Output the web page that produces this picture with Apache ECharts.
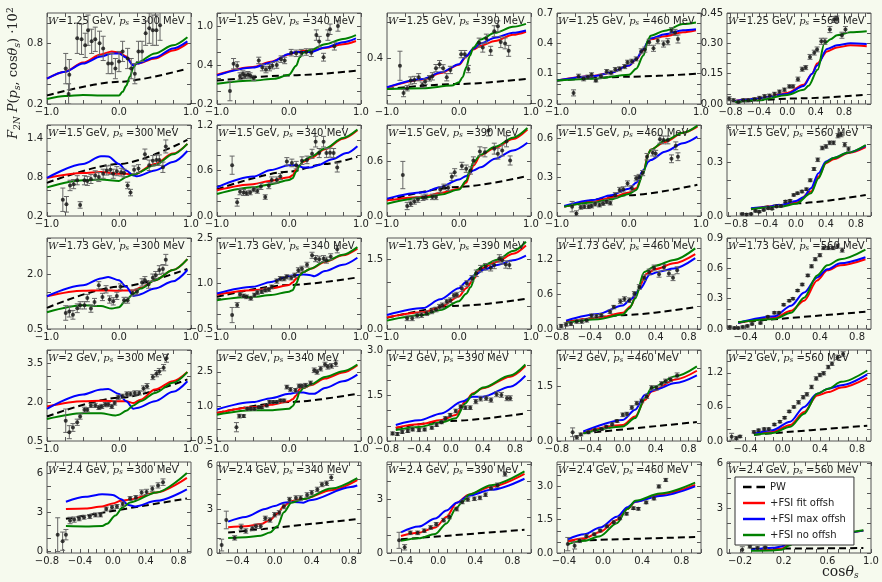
<!DOCTYPE html>
<html>
<head>
<meta charset="utf-8">
<script src="https://cdn.jsdelivr.net/npm/echarts@6/dist/echarts.min.js"></script>
<style>
  html, body { margin: 0; padding: 0; background: #f6faee; }
  #chart { width: 882px; height: 582px; }
</style>
</head>
<body>
<div id="chart"></div>
<script>
// panel order: row by row (W), column by column (p_s)
const wValues = ['1.25', '1.5', '1.73', '2', '2.4'];
const psValues = ['300', '340', '390', '460', '560'];

const xRanges = [
  [-1, 1], [-1, 1], [-1, 1], [-1, 1], [-0.85, 1.18],
  [-1, 1], [-1, 1], [-1, 1], [-1, 1], [-0.92, 1.0],
  [-1, 1], [-1, 1], [-1, 1], [-0.8, 0.95], [-0.6, 0.95],
  [-1, 1], [-1, 1], [-0.8, 1.0], [-0.8, 0.95], [-0.6, 0.95],
  [-0.8, 0.95], [-0.62, 0.93], [-0.55, 1.0], [-0.47, 1.0], [-0.32, 1.0]
];
const yRanges = [
  [0.2, 1.1], [-0.2, 1.2], [0.15, 0.65], [-0.2, 0.7], [0, 0.45],
  [0.2, 1.6], [0, 1.2], [0, 1.0], [0, 0.7], [0, 0.51],
  [0.5, 3.0], [-0.5, 2.5], [0, 1.96], [0, 1.58], [0, 0.9],
  [0.5, 4.0], [-0.5, 3.45], [0, 3.0], [0, 2.5], [0, 1.6],
  [-0.1, 6.9], [0, 6.2], [0, 5.1], [0, 4.1], [0, 6.1]
];
// tick labels: [first, step]
const xLabelTicks = [
  [-1, 1], [-1, 1], [-1, 1], [-1, 1], [-0.8, 0.4],
  [-1, 1], [-1, 1], [-1, 1], [-1, 1], [-0.8, 0.4],
  [-1, 1], [-1, 1], [-1, 1], [-0.8, 0.4], [-0.8, 0.4],
  [-1, 1], [-1, 1], [-0.8, 0.4], [-0.8, 0.4], [-0.8, 0.4],
  [-0.8, 0.4], [-0.8, 0.4], [-0.8, 0.4], [-0.8, 0.4], [-0.2, 0.4]
];
const yLabelTicks = [
  [0.2, 0.6], [-0.2, 0.6], [0.4, 0.6], [-0.2, 0.3], [0, 0.15],
  [0.2, 0.6], [0, 0.6], [0, 0.6], [0, 0.3], [0, 0.3],
  [0.5, 1.5], [-0.5, 1.5], [0, 1.5], [0, 0.6], [0, 0.3],
  [0.5, 1.5], [-0.5, 1.5], [0, 1.5], [0, 1.5], [0, 0.6],
  [0, 3], [0, 3], [0, 3], [0, 1.5], [0, 3]
];
const yDigits = [1, 1, 1, 1, 2, 1, 1, 1, 1, 1, 1, 1, 1, 1, 1, 1, 1, 1, 1, 1, 0, 0, 0, 1, 0];

// PW (dashed black)
const pwCurves = [
  [[-1,0.285],[0,0.42],[0.95,0.55]],
  [[-1,0.16],[0,0.24],[0.93,0.31]],
  [[-1,0.233],[0,0.26],[0.93,0.288]],
  [[-1,0.033],[0,0.07],[0.93,0.098]],
  [[-0.74,0.01],[0.2,0.028],[1.12,0.046]],
  [[-1,0.71],[0,1.0],[0.95,1.37]],
  [[-1,0.35],[0,0.585],[0.5,0.686],[0.95,0.78]],
  [[-1,0.172],[0,0.32],[0.95,0.44]],
  [[-0.9,0.072],[0,0.16],[0.95,0.24]],
  [[-0.6,0.038],[0,0.071],[0.93,0.118]],
  [[-1,1.08],[0,1.66],[0.95,2.15]],
  [[-1,0.56],[0,0.95],[0.95,1.2]],
  [[-1,0.24],[0,0.5],[0.93,0.65]],
  [[-0.69,0.12],[0,0.24],[0.88,0.38]],
  [[-0.48,0.067],[0.89,0.17]],
  [[-1,1.44],[0,2.16],[0.95,2.87]],
  [[-1,0.72],[0,1.19],[0.95,1.55]],
  [[-0.69,0.43],[0,0.66],[0.93,0.91]],
  [[-0.48,0.21],[0.9,0.52]],
  [[-0.31,0.11],[0.91,0.27]],
  [[-0.57,2.53],[0.9,4.09]],
  [[-0.5,1.39],[0.89,2.31]],
  [[-0.4,0.77],[0.93,1.30]],
  [[-0.36,0.55],[0.94,0.72]],
  [[-0.1,0.28],[0.93,0.33]]
];
// +FSI fit offsh (red)
const fitCurves = [
  [[-1,0.45],[-0.75,0.52],[-0.5,0.61],[-0.25,0.69],[-0.1,0.72],[0,0.71],[0.1,0.67],[0.2,0.58],[0.25,0.6],[0.5,0.65],[0.75,0.73],[0.95,0.80]],
  [[-1,0.25],[-0.5,0.37],[-0.25,0.45],[0,0.56],[0.1,0.6],[0.2,0.62],[0.3,0.62],[0.5,0.66],[0.75,0.72],[0.93,0.77]],
  [[-1,0.24],[-0.5,0.285],[-0.25,0.32],[0,0.365],[0.1,0.41],[0.2,0.45],[0.3,0.47],[0.5,0.496],[0.75,0.53],[0.93,0.547]],
  [[-1,0.033],[-0.5,0.078],[-0.25,0.11],[0,0.18],[0.1,0.24],[0.2,0.335],[0.27,0.42],[0.3,0.44],[0.5,0.47],[0.75,0.51],[0.93,0.53]],
  [[-0.74,0.015],[-0.4,0.027],[0,0.055],[0.23,0.095],[0.35,0.15],[0.42,0.2],[0.56,0.26],[0.7,0.28],[0.89,0.29],[1.12,0.286]],
  [[-1,0.785],[-0.5,0.86],[-0.25,0.876],[0,0.85],[0.1,0.85],[0.2,0.835],[0.5,1.0],[0.75,1.16],[0.95,1.31]],
  [[-1,0.34],[-0.5,0.42],[-0.25,0.466],[0,0.51],[0.05,0.536],[0.1,0.615],[0.15,0.67],[0.2,0.716],[0.3,0.76],[0.5,0.88],[0.75,1.02],[0.95,1.13]],
  [[-1,0.172],[-0.5,0.21],[-0.25,0.255],[0,0.30],[0.1,0.367],[0.15,0.46],[0.2,0.554],[0.3,0.667],[0.5,0.75],[0.75,0.846],[0.95,0.95]],
  [[-0.9,0.072],[-0.5,0.11],[-0.25,0.141],[0,0.18],[0.1,0.213],[0.2,0.34],[0.27,0.482],[0.3,0.51],[0.5,0.57],[0.75,0.64],[0.95,0.687]],
  [[-0.6,0.041],[-0.2,0.058],[0,0.075],[0.2,0.137],[0.3,0.221],[0.4,0.296],[0.5,0.318],[0.7,0.353],[0.93,0.386]],
  [[-1,1.40],[-0.5,1.55],[-0.25,1.56],[0,1.55],[0.1,1.56],[0.2,1.56],[0.3,1.63],[0.5,1.84],[0.75,2.12],[0.95,2.42]],
  [[-1,0.64],[-0.5,0.78],[-0.25,0.84],[0,0.95],[0.05,1.03],[0.1,1.16],[0.2,1.38],[0.3,1.49],[0.5,1.71],[0.75,1.93],[0.95,2.15]],
  [[-1,0.25],[-0.5,0.36],[-0.26,0.47],[0,0.70],[0.1,0.88],[0.21,1.09],[0.30,1.30],[0.53,1.45],[0.75,1.62],[0.93,1.80]],
  [[-0.69,0.12],[-0.3,0.19],[0,0.28],[0.1,0.4],[0.17,0.64],[0.29,0.96],[0.4,1.04],[0.62,1.14],[0.88,1.30]],
  [[-0.48,0.06],[-0.09,0.11],[0.09,0.18],[0.23,0.28],[0.37,0.48],[0.48,0.58],[0.62,0.63],[0.89,0.69]],
  [[-1,1.83],[-0.5,2.03],[-0.25,2.05],[0,2.03],[0.1,2.03],[0.2,1.96],[0.3,2.09],[0.5,2.48],[0.75,2.80],[0.95,3.15]],
  [[-1,0.72],[-0.5,0.97],[-0.25,1.07],[0,1.22],[0.05,1.31],[0.1,1.48],[0.15,1.77],[0.2,1.80],[0.3,1.92],[0.5,2.21],[0.75,2.47],[0.95,2.79]],
  [[-0.69,0.44],[-0.4,0.55],[-0.12,0.69],[0.06,0.86],[0.18,1.30],[0.27,1.57],[0.40,1.74],[0.74,2.12],[0.93,2.47]],
  [[-0.48,0.24],[0,0.44],[0.15,0.67],[0.27,1.13],[0.35,1.36],[0.64,1.69],[0.90,1.93]],
  [[-0.31,0.13],[-0.11,0.16],[0.08,0.28],[0.23,0.51],[0.37,0.80],[0.49,0.86],[0.63,0.94],[0.91,1.11]],
  [[-0.57,3.28],[-0.33,3.33],[-0.13,3.48],[0,3.71],[0.1,3.91],[0.2,4.0],[0.53,4.55],[0.9,5.68]],
  [[-0.5,1.76],[-0.31,1.82],[-0.15,1.97],[-0.05,2.25],[0.03,2.68],[0.1,3.21],[0.18,3.53],[0.31,3.68],[0.61,4.28],[0.89,4.97]],
  [[-0.4,0.95],[-0.21,1.13],[-0.03,1.43],[0.09,2.02],[0.2,2.82],[0.33,3.27],[0.57,3.71],[0.93,4.43]],
  [[-0.36,0.52],[-0.19,0.66],[-0.03,0.95],[0.14,1.49],[0.25,1.99],[0.33,2.31],[0.58,2.64],[0.94,3.07]],
  [[-0.1,0.2],[0.1,0.22],[0.18,0.28],[0.25,0.55],[0.32,0.87],[0.41,1.15],[0.55,1.25],[0.7,1.3],[0.93,1.5]]
];
// +FSI max offsh (blue)
const maxCurves = [
  [[-1,0.45],[-0.75,0.52],[-0.5,0.6],[-0.25,0.67],[-0.1,0.70],[0,0.70],[0.1,0.66],[0.2,0.58],[0.25,0.6],[0.5,0.66],[0.75,0.75],[0.95,0.82]],
  [[-1,0.24],[-0.5,0.36],[-0.25,0.44],[0,0.57],[0.1,0.6],[0.2,0.6],[0.3,0.6],[0.5,0.67],[0.75,0.75],[0.93,0.81]],
  [[-1,0.242],[-0.5,0.288],[-0.25,0.324],[0,0.369],[0.1,0.414],[0.2,0.454],[0.3,0.483],[0.5,0.514],[0.75,0.541],[0.93,0.554]],
  [[-1,0.033],[-0.5,0.075],[-0.25,0.108],[0,0.18],[0.1,0.246],[0.2,0.344],[0.27,0.426],[0.3,0.449],[0.5,0.49],[0.75,0.53],[0.93,0.54]],
  [[-0.74,0.015],[-0.43,0.026],[0,0.05],[0.23,0.089],[0.35,0.15],[0.42,0.19],[0.56,0.272],[0.7,0.29],[0.89,0.30],[1.12,0.297]],
  [[-1,0.785],[-0.5,1.0],[-0.25,1.12],[-0.15,1.115],[0,1.0],[0.1,0.9],[0.2,0.825],[0.25,0.81],[0.5,0.9],[0.75,1.03],[0.95,1.2]],
  [[-1,0.378],[-0.5,0.52],[-0.25,0.607],[0,0.67],[0.1,0.67],[0.2,0.64],[0.3,0.64],[0.4,0.67],[0.6,0.75],[0.8,0.83],[0.95,0.92]],
  [[-1,0.19],[-0.5,0.26],[-0.25,0.32],[0,0.40],[0.1,0.44],[0.2,0.50],[0.3,0.535],[0.5,0.63],[0.75,0.72],[0.95,0.805]],
  [[-0.9,0.077],[-0.5,0.123],[-0.25,0.16],[0,0.21],[0.1,0.256],[0.2,0.354],[0.27,0.418],[0.3,0.43],[0.5,0.495],[0.75,0.56],[0.95,0.61]],
  [[-0.6,0.043],[-0.4,0.049],[-0.2,0.062],[0,0.084],[0.1,0.105],[0.2,0.156],[0.3,0.24],[0.4,0.306],[0.5,0.325],[0.7,0.356],[0.93,0.394]],
  [[-1,1.40],[-0.5,1.70],[-0.25,1.89],[-0.15,1.93],[0,1.84],[0.1,1.66],[0.2,1.41],[0.25,1.43],[0.5,1.61],[0.75,1.81],[0.95,2.12]],
  [[-1,0.67],[-0.5,0.89],[-0.25,1.05],[0,1.25],[0.1,1.27],[0.2,1.30],[0.3,1.27],[0.35,1.24],[0.5,1.41],[0.75,1.62],[0.95,1.85]],
  [[-1,0.30],[-0.5,0.45],[-0.26,0.64],[0,0.88],[0.1,1.02],[0.21,1.16],[0.35,1.28],[0.53,1.38],[0.75,1.48],[0.93,1.58]],
  [[-0.69,0.146],[-0.3,0.26],[0,0.41],[0.1,0.52],[0.21,0.70],[0.33,0.95],[0.45,1.0],[0.62,1.05],[0.88,1.23]],
  [[-0.48,0.06],[-0.09,0.125],[0.09,0.23],[0.23,0.36],[0.37,0.51],[0.48,0.59],[0.62,0.65],[0.89,0.71]],
  [[-1,1.74],[-0.5,2.29],[-0.25,2.48],[-0.15,2.5],[0,2.31],[0.1,2.03],[0.2,1.74],[0.25,1.77],[0.5,2.03],[0.75,2.39],[0.95,2.80]],
  [[-1,0.87],[-0.5,1.19],[-0.25,1.36],[0,1.55],[0.1,1.60],[0.2,1.60],[0.3,1.55],[0.35,1.55],[0.5,1.80],[0.75,2.09],[0.95,2.38]],
  [[-0.69,0.53],[-0.4,0.68],[-0.12,0.91],[0.14,1.30],[0.27,1.46],[0.40,1.46],[0.74,1.79],[0.93,2.15]],
  [[-0.48,0.26],[0,0.58],[0.15,0.86],[0.27,1.27],[0.39,1.41],[0.64,1.59],[0.90,1.80]],
  [[-0.31,0.13],[-0.11,0.19],[0.08,0.34],[0.23,0.60],[0.37,0.83],[0.49,0.92],[0.63,0.98],[0.91,1.17]],
  [[-0.57,3.84],[-0.33,4.22],[-0.13,4.42],[0,4.37],[0.1,4.04],[0.19,3.59],[0.27,3.48],[0.53,3.91],[0.9,4.80]],
  [[-0.5,2.14],[-0.31,2.46],[-0.1,3.0],[0,3.21],[0.1,3.43],[0.2,3.47],[0.31,3.43],[0.38,3.6],[0.82,4.5],[0.89,4.6]],
  [[-0.4,1.16],[-0.21,1.48],[-0.03,1.93],[0.09,2.38],[0.2,2.82],[0.33,3.21],[0.57,3.54],[0.93,4.16]],
  [[-0.36,0.62],[-0.19,0.84],[-0.03,1.15],[0.14,1.63],[0.25,2.06],[0.33,2.31],[0.58,2.57],[0.94,3.0]],
  [[-0.1,0.2],[0.1,0.35],[0.18,0.43],[0.25,0.7],[0.32,0.95],[0.41,1.18],[0.55,1.25],[0.7,1.3],[0.93,1.5]]
];
// +FSI no offsh (green)
const noCurves = [
  [[-1,0.25],[-0.75,0.28],[-0.5,0.29],[-0.25,0.285],[0,0.285],[0.05,0.32],[0.1,0.38],[0.15,0.47],[0.2,0.56],[0.25,0.61],[0.5,0.70],[0.75,0.78],[0.95,0.86]],
  [[-1,0.11],[-0.5,0.16],[-0.2,0.19],[0,0.25],[0.1,0.39],[0.15,0.52],[0.2,0.59],[0.3,0.63],[0.5,0.72],[0.75,0.80],[0.93,0.86]],
  [[-1,0.233],[-0.5,0.237],[-0.1,0.251],[0,0.27],[0.05,0.297],[0.1,0.351],[0.15,0.414],[0.2,0.46],[0.3,0.505],[0.5,0.541],[0.75,0.574],[0.93,0.59]],
  [[-1,0.033],[-0.5,0.049],[0,0.089],[0.1,0.148],[0.2,0.279],[0.27,0.443],[0.3,0.475],[0.5,0.525],[0.75,0.59],[0.93,0.607]],
  [[-0.74,0.01],[-0.4,0.02],[0,0.045],[0.23,0.07],[0.3,0.09],[0.43,0.17],[0.52,0.297],[0.61,0.32],[0.7,0.34],[0.89,0.355],[1.12,0.36]],
  [[-1,0.64],[-0.5,0.75],[-0.25,0.76],[0,0.74],[0.1,0.8],[0.2,0.84],[0.5,0.98],[0.75,1.15],[0.95,1.31]],
  [[-1,0.29],[-0.5,0.378],[-0.25,0.42],[0,0.475],[0.05,0.497],[0.1,0.585],[0.15,0.67],[0.2,0.73],[0.3,0.78],[0.5,0.89],[0.75,1.03],[0.95,1.14]],
  [[-1,0.135],[-0.5,0.2],[-0.25,0.236],[0,0.29],[0.1,0.386],[0.15,0.5],[0.2,0.59],[0.3,0.674],[0.5,0.76],[0.75,0.86],[0.95,0.966]],
  [[-0.9,0.072],[-0.5,0.103],[-0.25,0.128],[0,0.17],[0.1,0.2],[0.2,0.33],[0.27,0.48],[0.3,0.51],[0.5,0.58],[0.75,0.64],[0.95,0.695]],
  [[-0.6,0.039],[-0.2,0.052],[0,0.068],[0.2,0.128],[0.3,0.212],[0.4,0.3],[0.5,0.325],[0.7,0.356],[0.93,0.398]],
  [[-1,0.96],[-0.5,1.15],[-0.25,1.13],[-0.1,1.06],[0,1.10],[0.1,1.29],[0.2,1.47],[0.3,1.61],[0.5,1.84],[0.75,2.12],[0.95,2.42]],
  [[-1,0.45],[-0.5,0.56],[-0.25,0.62],[0,0.73],[0.05,0.78],[0.1,1.0],[0.15,1.27],[0.2,1.38],[0.3,1.49],[0.5,1.73],[0.75,1.95],[0.95,2.2]],
  [[-1,0.18],[-0.5,0.30],[-0.26,0.41],[0,0.60],[0.1,0.76],[0.16,0.90],[0.25,1.27],[0.35,1.38],[0.53,1.49],[0.75,1.68],[0.93,1.88]],
  [[-0.69,0.11],[-0.3,0.17],[0,0.25],[0.08,0.36],[0.15,0.53],[0.26,0.99],[0.4,1.1],[0.62,1.2],[0.88,1.40]],
  [[-0.48,0.067],[-0.09,0.10],[0.09,0.16],[0.23,0.31],[0.37,0.53],[0.48,0.63],[0.62,0.69],[0.89,0.785]],
  [[-1,1.35],[-0.5,1.57],[-0.25,1.57],[-0.05,1.48],[0,1.51],[0.1,1.66],[0.2,1.87],[0.3,2.03],[0.5,2.35],[0.75,2.74],[0.95,3.15]],
  [[-1,0.64],[-0.5,0.83],[-0.25,0.83],[0,0.90],[0.05,1.01],[0.1,1.26],[0.15,1.63],[0.2,1.80],[0.3,1.95],[0.5,2.28],[0.75,2.53],[0.95,2.82]],
  [[-0.69,0.36],[-0.4,0.46],[-0.12,0.62],[0.06,0.75],[0.18,1.24],[0.27,1.54],[0.40,1.76],[0.74,2.16],[0.93,2.52]],
  [[-0.48,0.21],[0,0.40],[0.15,0.63],[0.27,1.18],[0.35,1.46],[0.64,1.78],[0.90,2.05]],
  [[-0.31,0.11],[-0.11,0.14],[0.08,0.25],[0.23,0.48],[0.37,0.83],[0.49,0.92],[0.63,1.04],[0.91,1.24]],
  [[-0.57,1.97],[-0.33,1.94],[-0.13,1.97],[-0.07,2.15],[0.03,2.78],[0.12,3.41],[0.21,3.79],[0.53,4.55],[0.9,6.06]],
  [[-0.5,1.03],[-0.31,1.07],[-0.15,1.18],[-0.05,1.39],[0.03,1.82],[0.1,2.78],[0.18,3.43],[0.31,3.68],[0.61,4.39],[0.89,5.1]],
  [[-0.4,0.68],[-0.21,0.82],[-0.03,1.07],[0.09,1.66],[0.2,2.55],[0.27,2.91],[0.33,3.27],[0.57,3.80],[0.93,4.57]],
  [[-0.36,0.40],[-0.19,0.55],[-0.03,0.76],[0.14,1.34],[0.25,1.99],[0.33,2.35],[0.58,2.68],[0.94,3.17]],
  [[-0.1,0.15],[0.1,0.17],[0.18,0.22],[0.25,0.5],[0.32,0.85],[0.41,1.15],[0.55,1.25],[0.7,1.32],[0.93,1.52]]
];
// measured points: [cos theta, value, error]
const dataPoints = [
  [[-0.74,0.55,0.15],[-0.69,0.49,0.15],[-0.70,0.30,0.1],[-0.58,0.85,0.15],[-0.52,0.84,0.15],[-0.47,0.78,0.12],[-0.43,0.93,0.15],[-0.38,0.82,0.12],[-0.33,0.84,0.12],[-0.27,0.80,0.12],[-0.22,0.75,0.12],[-0.15,0.60,0.1],[-0.10,0.60,0.1],[-0.05,0.55,0.1],[0.0,0.62,0.1],[0.05,0.72,0.1],[0.12,0.65,0.1],[0.17,0.55,0.1],[0.22,0.50,0.1],[0.27,0.72,0.1],[0.32,0.72,0.1],[0.37,0.90,0.12],[0.42,0.95,0.15],[0.47,0.93,0.15],[0.52,0.93,0.15],[0.57,0.98,0.15]],
  [[-0.82,0.0,0.15],[-0.77,0.42,0.08],[-0.72,0.39,0.06],[-0.68,0.23,0.05],[-0.64,0.26,0.05],[-0.61,0.24,0.05],[-0.57,0.25,0.05],[-0.54,0.24,0.04],[-0.49,0.20,0.04],[-0.42,0.47,0.05],[-0.37,0.36,0.05],[-0.32,0.33,0.05],[-0.27,0.36,0.05],[-0.23,0.39,0.05],[-0.17,0.40,0.05],[-0.11,0.49,0.05],[-0.06,0.47,0.05],[0.03,0.59,0.05],[0.10,0.58,0.05],[0.17,0.59,0.05],[0.24,0.60,0.05],[0.31,0.59,0.06],[0.38,0.86,0.08],[0.42,0.76,0.08],[0.48,0.52,0.06],[0.54,0.86,0.08],[0.57,0.95,0.08],[0.63,0.69,0.06],[0.68,1.0,0.08]],
  [[-0.82,0.36,0.08],[-0.77,0.21,0.02],[-0.72,0.237,0.015],[-0.67,0.279,0.02],[-0.62,0.282,0.02],[-0.56,0.297,0.02],[-0.51,0.255,0.015],[-0.47,0.273,0.015],[-0.41,0.291,0.015],[-0.37,0.302,0.02],[-0.32,0.347,0.02],[-0.27,0.369,0.02],[-0.22,0.346,0.02],[-0.17,0.297,0.02],[-0.12,0.337,0.02],[0.03,0.424,0.02],[0.08,0.424,0.02],[0.13,0.342,0.02],[0.28,0.487,0.025],[0.33,0.46,0.025],[0.38,0.509,0.025],[0.44,0.442,0.025],[0.49,0.55,0.03],[0.54,0.577,0.03],[0.58,0.49,0.03],[0.64,0.483,0.03],[0.69,0.442,0.03]],
  [[-0.77,-0.09,0.03],[-0.70,0.075,0.02],[-0.63,0.049,0.02],[-0.57,0.066,0.02],[-0.52,0.089,0.02],[-0.46,0.033,0.015],[-0.39,0.075,0.02],[-0.31,0.121,0.02],[-0.25,0.108,0.02],[-0.19,0.141,0.02],[-0.13,0.148,0.02],[-0.06,0.17,0.02],[-0.02,0.213,0.02],[0.04,0.223,0.02],[0.10,0.246,0.02],[0.17,0.321,0.025],[0.22,0.338,0.025],[0.28,0.41,0.03],[0.34,0.351,0.03],[0.40,0.426,0.03],[0.48,0.393,0.03],[0.54,0.416,0.03],[0.59,0.525,0.03],[0.64,0.508,0.03],[0.68,0.443,0.04]],
  [[-0.82,0.026,0.01],[-0.76,0.018,0.008],[-0.69,0.01,0.008],[-0.62,0.018,0.008],[-0.55,0.018,0.008],[-0.46,0.023,0.008],[-0.39,0.03,0.008],[-0.32,0.038,0.008],[-0.25,0.041,0.008],[-0.18,0.05,0.008],[-0.11,0.061,0.008],[-0.04,0.071,0.008],[0.03,0.087,0.008],[0.08,0.087,0.008],[0.15,0.123,0.01],[0.21,0.172,0.01],[0.26,0.18,0.01],[0.32,0.233,0.012],[0.38,0.254,0.012],[0.42,0.27,0.012],[0.48,0.31,0.015],[0.53,0.31,0.015],[0.60,0.368,0.015],[0.66,0.418,0.015],[0.70,0.42,0.015],[0.77,0.34,0.015],[0.82,0.368,0.015]],
  [[-0.78,0.45,0.18],[-0.73,0.38,0.12],[-0.68,0.67,0.08],[-0.63,0.69,0.07],[-0.58,0.75,0.07],[-0.54,0.37,0.05],[-0.48,0.75,0.07],[-0.44,0.74,0.07],[-0.39,0.77,0.07],[-0.33,0.825,0.07],[-0.28,0.80,0.07],[-0.22,0.85,0.07],[-0.17,0.90,0.07],[-0.12,0.91,0.07],[-0.08,0.85,0.07],[-0.03,0.89,0.07],[0.03,0.875,0.06],[0.07,0.86,0.06],[0.12,0.67,0.05],[0.16,0.56,0.05],[0.21,0.91,0.06],[0.27,0.93,0.06],[0.36,1.15,0.08],[0.42,0.98,0.08],[0.47,1.05,0.08],[0.52,1.06,0.08],[0.56,1.06,0.08],[0.61,0.95,0.08],[0.65,1.27,0.1]],
  [[-0.79,0.67,0.12],[-0.72,0.18,0.05],[-0.68,0.32,0.04],[-0.63,0.31,0.04],[-0.59,0.30,0.03],[-0.54,0.31,0.03],[-0.49,0.35,0.03],[-0.44,0.33,0.03],[-0.39,0.39,0.04],[-0.33,0.25,0.03],[-0.28,0.40,0.04],[-0.24,0.475,0.04],[-0.17,0.475,0.04],[-0.12,0.52,0.04],[-0.03,0.72,0.05],[0.04,0.70,0.05],[0.10,0.67,0.05],[0.18,0.73,0.05],[0.25,0.74,0.05],[0.32,0.82,0.06],[0.37,0.98,0.07],[0.42,0.83,0.06],[0.48,0.98,0.07],[0.52,0.83,0.06],[0.57,0.835,0.06],[0.62,0.83,0.06],[0.67,0.64,0.06]],
  [[-0.78,0.45,0.15],[-0.72,0.11,0.04],[-0.67,0.135,0.03],[-0.62,0.16,0.03],[-0.57,0.18,0.03],[-0.50,0.20,0.03],[-0.46,0.21,0.03],[-0.37,0.21,0.03],[-0.32,0.21,0.03],[-0.26,0.29,0.03],[-0.21,0.32,0.03],[-0.15,0.31,0.03],[-0.10,0.43,0.04],[-0.06,0.48,0.04],[0.04,0.55,0.04],[0.10,0.52,0.04],[0.16,0.50,0.04],[0.20,0.61,0.04],[0.29,0.71,0.05],[0.36,0.70,0.05],[0.41,0.94,0.06],[0.49,0.74,0.06],[0.54,0.685,0.06],[0.60,0.72,0.06],[0.66,0.82,0.06],[0.71,0.61,0.05]],
  [[-0.79,0.072,0.04],[-0.73,0.02,0.02],[-0.67,0.067,0.015],[-0.62,0.072,0.015],[-0.56,0.072,0.015],[-0.52,0.077,0.015],[-0.47,0.092,0.015],[-0.41,0.085,0.015],[-0.36,0.097,0.015],[-0.31,0.11,0.015],[-0.26,0.10,0.015],[-0.19,0.16,0.02],[-0.13,0.2,0.02],[-0.08,0.205,0.02],[-0.02,0.25,0.02],[0.04,0.213,0.02],[0.10,0.29,0.02],[0.14,0.30,0.02],[0.19,0.33,0.02],[0.25,0.456,0.025],[0.33,0.487,0.025],[0.37,0.48,0.025],[0.43,0.59,0.03],[0.48,0.585,0.03],[0.54,0.585,0.03],[0.59,0.44,0.03],[0.65,0.54,0.03],[0.68,0.456,0.03]],
  [[-0.72,0.011,0.005],[-0.66,0.009,0.005],[-0.60,0.011,0.005],[-0.54,0.028,0.005],[-0.49,0.024,0.005],[-0.43,0.034,0.005],[-0.37,0.043,0.005],[-0.32,0.041,0.005],[-0.26,0.053,0.005],[-0.20,0.056,0.005],[-0.14,0.081,0.006],[-0.08,0.086,0.006],[-0.03,0.118,0.006],[0.02,0.128,0.006],[0.08,0.137,0.007],[0.14,0.15,0.007],[0.19,0.2,0.008],[0.24,0.263,0.008],[0.29,0.315,0.01],[0.35,0.381,0.01],[0.40,0.39,0.01],[0.45,0.41,0.01],[0.50,0.41,0.01],[0.56,0.45,0.012],[0.60,0.456,0.012],[0.65,0.40,0.012],[0.70,0.375,0.012]],
  [[-0.74,0.94,0.2],[-0.69,0.98,0.15],[-0.64,0.89,0.12],[-0.58,1.07,0.12],[-0.54,1.15,0.1],[-0.48,1.15,0.1],[-0.44,1.35,0.1],[-0.39,1.06,0.1],[-0.34,1.24,0.1],[-0.28,1.70,0.1],[-0.23,1.38,0.1],[-0.18,1.59,0.1],[-0.13,1.31,0.1],[-0.08,1.26,0.1],[-0.03,1.41,0.1],[0.02,1.66,0.08],[0.07,1.29,0.08],[0.12,1.29,0.08],[0.19,1.49,0.08],[0.25,1.52,0.08],[0.32,1.78,0.1],[0.36,1.84,0.1],[0.41,1.72,0.1],[0.47,1.91,0.1],[0.51,1.98,0.1],[0.56,2.12,0.12],[0.61,2.15,0.12],[0.65,2.40,0.15]],
  [[-0.79,-0.04,0.25],[-0.72,0.29,0.08],[-0.68,0.64,0.06],[-0.63,0.59,0.06],[-0.59,0.56,0.06],[-0.53,0.51,0.06],[-0.48,0.62,0.06],[-0.44,0.70,0.06],[-0.38,0.73,0.06],[-0.33,0.78,0.06],[-0.28,0.80,0.06],[-0.24,0.89,0.06],[-0.17,1.08,0.07],[-0.12,1.16,0.07],[-0.07,1.16,0.07],[-0.03,1.22,0.07],[0.03,1.19,0.07],[0.08,1.27,0.07],[0.13,1.44,0.08],[0.18,1.49,0.08],[0.25,1.62,0.08],[0.32,1.93,0.1],[0.37,1.82,0.1],[0.42,1.80,0.1],[0.48,1.82,0.1],[0.52,1.77,0.1],[0.58,1.88,0.1],[0.67,2.13,0.12]],
  [[-0.72,0.23,0.05],[-0.65,0.23,0.05],[-0.58,0.29,0.05],[-0.52,0.30,0.05],[-0.45,0.34,0.05],[-0.38,0.38,0.05],[-0.32,0.42,0.05],[-0.27,0.48,0.05],[-0.23,0.51,0.05],[-0.17,0.59,0.05],[-0.12,0.62,0.05],[-0.07,0.72,0.05],[-0.03,0.74,0.05],[0.04,0.87,0.06],[0.11,0.98,0.06],[0.18,1.09,0.06],[0.24,1.20,0.07],[0.30,1.30,0.07],[0.37,1.34,0.07],[0.44,1.32,0.07],[0.49,1.38,0.08],[0.56,1.52,0.08],[0.60,1.48,0.08],[0.65,1.39,0.08],[0.70,1.38,0.08]],
  [[-0.75,0.05,0.03],[-0.69,0.08,0.03],[-0.63,0.09,0.03],[-0.56,0.13,0.03],[-0.50,0.13,0.03],[-0.44,0.15,0.03],[-0.38,0.23,0.03],[-0.32,0.22,0.03],[-0.26,0.24,0.03],[-0.155,0.30,0.03],[-0.11,0.38,0.03],[-0.03,0.48,0.04],[0.02,0.52,0.04],[0.08,0.50,0.04],[0.14,0.61,0.04],[0.20,0.73,0.04],[0.26,0.89,0.05],[0.32,0.99,0.05],[0.38,1.06,0.05],[0.44,0.95,0.05],[0.50,1.07,0.05],[0.56,0.965,0.05],[0.61,0.89,0.05],[0.66,1.02,0.06]],
  [[-0.57,0.02,0.01],[-0.52,0.01,0.01],[-0.48,0.01,0.01],[-0.43,0.02,0.01],[-0.38,0.03,0.01],[-0.33,0.05,0.01],[-0.24,0.06,0.01],[-0.16,0.12,0.01],[-0.09,0.16,0.01],[-0.04,0.16,0.01],[0.01,0.24,0.01],[0.07,0.28,0.01],[0.11,0.30,0.01],[0.16,0.38,0.01],[0.21,0.44,0.012],[0.27,0.53,0.012],[0.31,0.62,0.015],[0.35,0.69,0.015],[0.40,0.73,0.015],[0.44,0.80,0.015],[0.49,0.80,0.015],[0.54,0.80,0.015],[0.59,0.82,0.02],[0.64,0.78,0.02]],
  [[-0.74,1.28,0.45],[-0.69,0.84,0.25],[-0.64,1.02,0.15],[-0.58,1.22,0.12],[-0.54,1.44,0.1],[-0.48,1.70,0.1],[-0.44,1.70,0.08],[-0.39,1.87,0.08],[-0.33,1.87,0.08],[-0.28,1.79,0.08],[-0.24,1.83,0.08],[-0.19,1.90,0.08],[-0.15,1.90,0.08],[-0.10,1.83,0.08],[-0.06,1.96,0.08],[-0.01,2.18,0.08],[0.05,2.22,0.08],[0.11,2.31,0.08],[0.16,2.31,0.08],[0.22,2.35,0.08],[0.28,2.35,0.08],[0.34,2.52,0.1],[0.39,2.61,0.1],[0.47,2.96,0.1],[0.52,3.09,0.12],[0.56,3.17,0.12],[0.62,3.32,0.12],[0.66,3.68,0.15]],
  [[-0.73,0.10,0.2],[-0.69,0.58,0.08],[-0.63,0.58,0.06],[-0.58,0.90,0.06],[-0.53,0.90,0.06],[-0.48,0.90,0.06],[-0.42,0.97,0.06],[-0.38,0.97,0.06],[-0.31,1.04,0.06],[-0.27,1.19,0.06],[-0.22,1.19,0.06],[-0.17,1.19,0.06],[-0.12,1.26,0.06],[-0.07,1.26,0.06],[-0.03,1.84,0.08],[0.02,1.74,0.08],[0.09,1.70,0.08],[0.14,1.89,0.08],[0.18,1.89,0.08],[0.23,1.92,0.08],[0.30,2.02,0.08],[0.35,2.57,0.1],[0.39,2.50,0.1],[0.44,2.64,0.1],[0.50,2.82,0.1],[0.54,2.72,0.1],[0.59,2.76,0.1],[0.65,2.86,0.12]],
  [[-0.73,0.25,0.05],[-0.67,0.23,0.05],[-0.61,0.30,0.05],[-0.54,0.33,0.05],[-0.48,0.38,0.05],[-0.40,0.36,0.05],[-0.33,0.38,0.05],[-0.24,0.44,0.05],[-0.18,0.53,0.05],[-0.12,0.62,0.05],[-0.07,0.75,0.05],[-0.01,0.86,0.05],[0.06,0.99,0.06],[0.12,1.13,0.06],[0.18,1.10,0.06],[0.24,1.10,0.06],[0.31,1.30,0.07],[0.37,1.39,0.07],[0.44,1.41,0.07],[0.50,1.35,0.07],[0.57,1.54,0.08],[0.63,1.52,0.08],[0.70,1.41,0.08],[0.74,1.41,0.08]],
  [[-0.61,0.24,0.12],[-0.56,0.10,0.05],[-0.51,0.18,0.04],[-0.42,0.24,0.04],[-0.34,0.30,0.04],[-0.26,0.33,0.04],[-0.20,0.39,0.04],[-0.13,0.46,0.04],[-0.07,0.55,0.04],[0.0,0.72,0.05],[0.05,0.74,0.05],[0.11,0.92,0.05],[0.17,1.04,0.05],[0.23,1.10,0.05],[0.29,1.22,0.05],[0.35,1.46,0.06],[0.41,1.46,0.06],[0.47,1.57,0.06],[0.52,1.64,0.06],[0.58,1.69,0.06],[0.66,1.80,0.07]],
  [[-0.55,0.075,0.06],[-0.50,0.05,0.03],[-0.46,0.08,0.02],[-0.31,0.16,0.02],[-0.26,0.19,0.02],[-0.20,0.21,0.02],[-0.15,0.21,0.02],[-0.09,0.29,0.02],[-0.03,0.34,0.02],[0.02,0.41,0.02],[0.07,0.52,0.02],[0.12,0.60,0.02],[0.17,0.68,0.03],[0.22,0.77,0.03],[0.26,0.82,0.03],[0.31,0.95,0.03],[0.36,1.10,0.03],[0.40,1.16,0.03],[0.44,1.19,0.03],[0.49,1.30,0.03],[0.53,1.36,0.03],[0.59,1.47,0.04],[0.65,1.53,0.04]],
  [[-0.67,1.31,1.3],[-0.61,0.81,0.7],[-0.57,1.31,0.4],[-0.52,2.4,0.25],[-0.47,2.47,0.2],[-0.41,2.53,0.15],[-0.35,2.65,0.15],[-0.28,2.70,0.15],[-0.21,2.83,0.15],[-0.15,2.83,0.15],[-0.08,3.28,0.15],[-0.01,3.41,0.15],[0.05,3.48,0.15],[0.12,3.66,0.15],[0.21,4.09,0.15],[0.28,4.17,0.15],[0.35,4.55,0.2],[0.41,4.60,0.2],[0.48,4.85,0.2],[0.55,5.10,0.2],[0.61,5.35,0.25]],
  [[-0.57,0.54,0.4],[-0.52,2.25,0.6],[-0.43,1.03,0.15],[-0.36,1.76,0.2],[-0.31,1.50,0.15],[-0.24,1.67,0.15],[-0.2,1.82,0.15],[-0.15,1.82,0.15],[-0.1,2.36,0.15],[-0.05,2.25,0.15],[0.0,2.61,0.15],[0.05,2.74,0.15],[0.1,3.17,0.15],[0.16,3.64,0.15],[0.23,3.75,0.15],[0.28,3.75,0.15],[0.35,3.96,0.15],[0.40,4.11,0.15],[0.46,4.33,0.15],[0.51,4.67,0.15],[0.56,4.75,0.15],[0.61,5.14,0.2]],
  [[-0.42,0.71,0.45],[-0.36,0.32,0.15],[-0.30,1.13,0.1],[-0.22,1.13,0.1],[-0.15,1.25,0.1],[-0.08,1.43,0.1],[-0.02,1.61,0.1],[0.06,1.84,0.1],[0.12,2.02,0.1],[0.20,2.46,0.1],[0.26,2.86,0.1],[0.32,3.0,0.1],[0.39,3.04,0.1],[0.45,3.09,0.1],[0.51,3.27,0.1],[0.57,3.63,0.1],[0.64,3.80,0.12],[0.72,4.43,0.12]],
  [[-0.36,0.40,0.3],[-0.29,0.33,0.15],[-0.24,0.55,0.08],[-0.17,0.76,0.06],[-0.09,0.84,0.06],[-0.03,1.01,0.06],[0.04,1.20,0.06],[0.11,1.39,0.06],[0.17,1.56,0.06],[0.24,1.77,0.06],[0.31,2.02,0.06],[0.36,1.99,0.06],[0.44,2.28,0.06],[0.52,2.45,0.06],[0.57,3.0,0.07],[0.64,3.29,0.07]],
  [[-0.18,0.22,0.2],[-0.11,0.43,0.1],[-0.04,0.33,0.08],[0.03,0.37,0.08],[0.1,0.65,0.08],[0.18,0.93,0.08],[0.25,1.2,0.08],[0.31,1.52,0.1],[0.37,1.96,0.1],[0.43,2.4,0.1],[0.5,2.9,0.1],[0.57,3.3,0.12],[0.63,3.8,0.12],[0.7,4.2,0.12]]
];

const seriesNames = ['PW', '+FSI fit offsh', '+FSI max offsh', '+FSI no offsh'];

const colLeft = [47, 217, 387, 557, 727];
const rowTop = [13, 125, 238, 350, 462];
const panelW = 144, panelH = 91;
const bg = '#f6faee';
const frame = '#555';
const txt = '#222';

function fmt(v, d) {
  const s = Math.abs(v).toFixed(d);
  return (v < -1e-9 ? '\u2212' : '') + s;
}
function tickVals(range, start, step) {
  const out = [];
  for (let k = -60; k <= 60; k++) {
    const v = +(start + k * step).toFixed(6);
    if (v >= range[0] - 1e-6 && v <= range[1] + 1e-6) out.push(v);
  }
  return out;
}

function errRender(params, api) {
  const x = api.value(0), y = api.value(1), e = api.value(2);
  const a = api.coord([x, y + e]), b = api.coord([x, y - e]);
  const st = { stroke: '#666', lineWidth: 1 };
  return {
    type: 'group',
    children: [
      { type: 'line', shape: { x1: a[0], y1: a[1], x2: b[0], y2: b[1] }, style: st },
      { type: 'line', shape: { x1: a[0] - 2.5, y1: a[1], x2: a[0] + 2.5, y2: a[1] }, style: st },
      { type: 'line', shape: { x1: b[0] - 2.5, y1: b[1], x2: b[0] + 2.5, y2: b[1] }, style: st }
    ]
  };
}

const grid = [], xAxis = [], yAxis = [], series = [], title = [];

for (let p = 0; p < 25; p++) {
  const r = Math.floor(p / 5), c = p % 5;
  grid.push({
    left: colLeft[c], top: rowTop[r], width: panelW, height: panelH,
    show: true, backgroundColor: bg, borderColor: frame, borderWidth: 1,
    containLabel: false, outerBoundsMode: 'none'
  });

  const xr = xRanges[p], yr = yRanges[p];
  const xMaj = tickVals(xr, xLabelTicks[p][0], xLabelTicks[p][1]);
  const xMin = tickVals(xr, xLabelTicks[p][0], xLabelTicks[p][1] / 4);
  const yMaj = tickVals(yr, yLabelTicks[p][0], yLabelTicks[p][1]);
  const yMin = tickVals(yr, yLabelTicks[p][0], yLabelTicks[p][1] / 3);
  const dig = yDigits[p];

  const tick = vals => ({ show: true, inside: true, length: 4, lineStyle: { color: frame, width: 1 }, customValues: vals });
  const base = { type: 'value', gridIndex: p, axisLine: { show: false, onZero: false }, splitLine: { show: false } };

  xAxis.push(Object.assign({}, base, {
    position: 'bottom', min: xr[0], max: xr[1], axisTick: tick(xMin),
    axisLabel: {
      customValues: xMaj, formatter: v => fmt(v, 1), fontSize: 10, color: txt,
      fontFamily: 'DejaVu Sans', margin: 3, hideOverlap: false
    }
  }));
  xAxis.push(Object.assign({}, base, {
    position: 'top', min: xr[0], max: xr[1], axisTick: tick(xMin), axisLabel: { show: false }
  }));
  yAxis.push(Object.assign({}, base, {
    position: 'left', min: yr[0], max: yr[1], axisTick: tick(yMin),
    axisLabel: {
      customValues: yMaj, formatter: v => fmt(v, dig), fontSize: 10, color: txt,
      fontFamily: 'DejaVu Sans', margin: 4, hideOverlap: false
    }
  }));
  yAxis.push(Object.assign({}, base, {
    position: 'right', min: yr[0], max: yr[1], axisTick: tick(yMin), axisLabel: { show: false }
  }));

  const xi = 2 * p, yi = 2 * p;
  const lineBase = (name, data, color, dash) => ({
    type: 'line', name, data, xAxisIndex: xi, yAxisIndex: yi,
    symbol: 'none', smooth: 0.3, smoothMonotone: 'x', clip: true,
    lineStyle: { color, width: 2, type: dash ? [7, 4] : 'solid' },
    itemStyle: { color }, z: 3
  });
  series.push(lineBase(seriesNames[0], pwCurves[p], '#000000', true));
  series.push(lineBase(seriesNames[1], fitCurves[p], '#ff0000', false));
  series.push(lineBase(seriesNames[2], maxCurves[p], '#0000ff', false));
  series.push(lineBase(seriesNames[3], noCurves[p], '#008000', false));
  series.push({
    type: 'custom', xAxisIndex: xi, yAxisIndex: yi, renderItem: errRender,
    data: dataPoints[p], encode: { x: 0, y: 1 }, clip: true, z: 4, silent: true
  });
  series.push({
    type: 'scatter', xAxisIndex: xi, yAxisIndex: yi,
    data: dataPoints[p].map(d => [d[0], d[1]]),
    symbol: 'circle', symbolSize: 4, itemStyle: { color: '#111' }, clip: true, z: 5, silent: true
  });

  title.push({
    left: colLeft[c] + 1, top: rowTop[r] + 2, padding: 0,
    text: '{i|W}=' + wValues[r] + ' GeV, {i|p}{s|s} =' + psValues[c] + ' MeV',
    textStyle: {
      fontSize: 10, fontWeight: 'normal', color: txt, fontFamily: 'DejaVu Sans',
      rich: {
        i: { fontFamily: 'DejaVu Serif', fontStyle: 'italic', fontSize: 10, color: txt },
        s: { fontFamily: 'DejaVu Serif', fontStyle: 'italic', fontSize: 7, color: txt, padding: [5, 0, 0, 0] }
      }
    }
  });
}

const dashIcon = 'path://M0 0H7V2H0Z M11 0H18V2H11Z';
const solidIcon = 'path://M0 0H18V2H0Z';

const option = {
  backgroundColor: bg,
  animation: false,
  title,
  grid, xAxis, yAxis, series,
  legend: {
    data: [
      { name: seriesNames[0], icon: dashIcon },
      { name: seriesNames[1], icon: solidIcon },
      { name: seriesNames[2], icon: solidIcon },
      { name: seriesNames[3], icon: solidIcon }
    ],
    orient: 'vertical',
    left: 735, top: 477,
    padding: [5, 8, 5, 8],
    itemGap: 6, itemWidth: 22, itemHeight: 3,
    backgroundColor: '#ffffff', borderColor: '#333', borderWidth: 1,
    textStyle: { fontSize: 10, color: txt, fontFamily: 'DejaVu Sans', lineHeight: 10 },
    z: 10
  },
  graphic: [
    {
      type: 'text', x: 14, y: 139, rotation: Math.PI / 2,
      style: {
        text: '{i|F}{s|2N} {i|P}({i|p}{s|s}, cos{i|θ}{s|s}) ·10{u|2}',
        align: 'left', verticalAlign: 'middle',
        font: '13px "DejaVu Serif"', fill: txt,
        rich: {
          i: { fontFamily: 'DejaVu Serif', fontStyle: 'italic', fontSize: 13 },
          s: { fontFamily: 'DejaVu Serif', fontStyle: 'italic', fontSize: 9, padding: [7, 0, 0, 0] },
          u: { fontFamily: 'DejaVu Serif', fontSize: 9, padding: [0, 0, 7, 0] }
        }
      }
    },
    {
      type: 'text', left: 822, top: 565,
      style: {
        text: 'cos{i|θ}{s|s}', font: '14px "DejaVu Serif"', fill: txt,
        rich: {
          i: { fontFamily: 'DejaVu Serif', fontStyle: 'italic', fontSize: 14 },
          s: { fontFamily: 'DejaVu Serif', fontStyle: 'italic', fontSize: 9, padding: [7, 0, 0, 0] }
        }
      }
    }
  ]
};

const chart = echarts.init(document.getElementById('chart'));
chart.setOption(option);
</script>
</body>
</html>
